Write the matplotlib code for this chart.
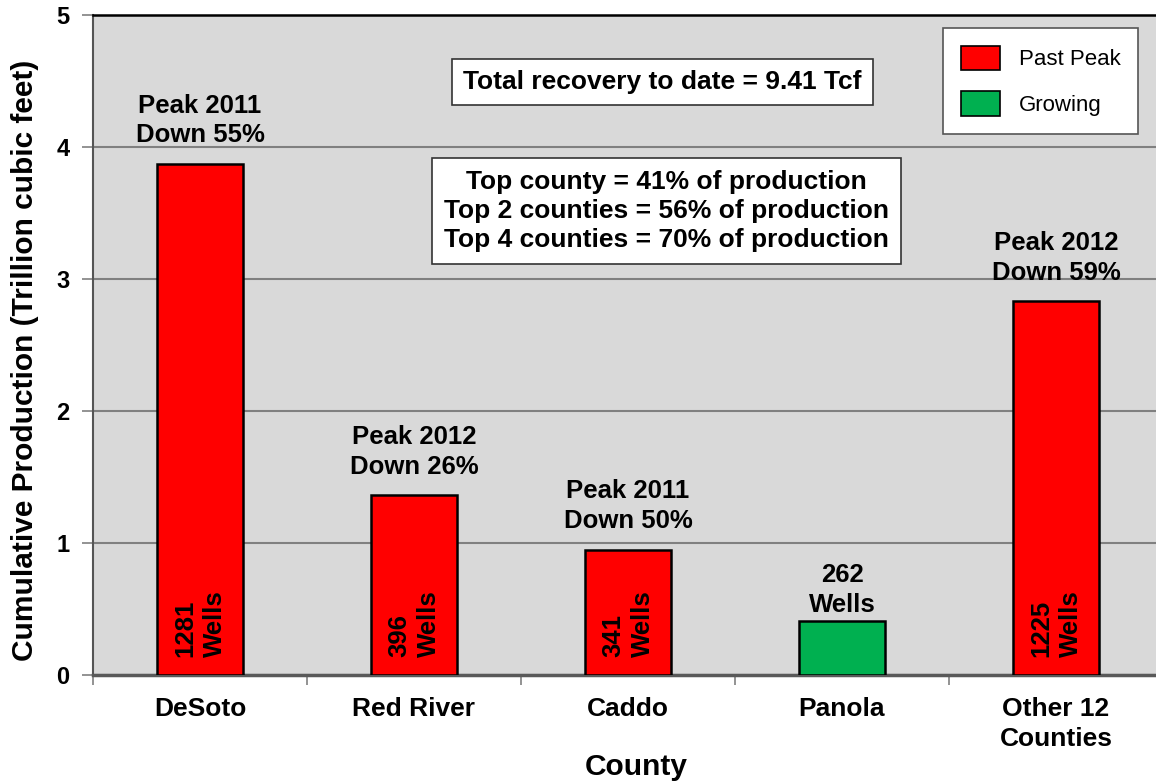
import matplotlib.pyplot as plt

plt.rcParams['font.family'] = ['Liberation Sans', 'DejaVu Sans']

# データ
counties = ["DeSoto", "Red River", "Caddo", "Panola", "Other 12\nCounties"]
production = [3.87, 1.36, 0.95, 0.41, 2.83]
wells = [1281, 396, 341, 262, 1225]
status = ["Past Peak", "Past Peak", "Past Peak", "Growing", "Past Peak"]
peak_notes = ["Peak 2011\nDown 55%", "Peak 2012\nDown 26%", "Peak 2011\nDown 50%",
              None, "Peak 2012\nDown 59%"]
total_text = "Total recovery to date = 9.41 Tcf"
share_text = ("Top county = 41% of production\n"
              "Top 2 counties = 56% of production\n"
              "Top 4 counties = 70% of production")

colors = {"Past Peak": "#FF0000", "Growing": "#00B050"}

fig = plt.figure(figsize=(11.56, 7.81), dpi=100)
ax = fig.add_axes([93 / 1156, 106 / 781, 1070 / 1156, 660 / 781])
ax.set_facecolor("#D9D9D9")

x = list(range(len(counties)))
bars = ax.bar(x, production, width=0.4, color=[colors[s] for s in status],
              edgecolor="black", linewidth=1.8, zorder=3)

ax.set_xlim(-0.5, 4.5)
ax.set_ylim(0, 5)
ax.set_yticks(range(6))
ax.yaxis.grid(True, color="#808080", linewidth=1.5, zorder=1)

fs = 18.5

# 棒の上の注記
for xi, val, note, n, s in zip(x, production, peak_notes, wells, status):
    if note is None:
        ax.annotate(f"{n}\nWells", (xi, val), xytext=(0, 3), textcoords="offset points",
                    ha="center", va="bottom", fontsize=fs, fontweight="bold",
                    linespacing=1.3, zorder=4)
    else:
        ax.annotate(note, (xi, val), xytext=(0, 12), textcoords="offset points",
                    ha="center", va="bottom", fontsize=fs, fontweight="bold",
                    linespacing=1.3, zorder=4)
        # 棒の中の井戸数
        ax.annotate(f"{n}\nWells", (xi, 0), xytext=(0, 13), textcoords="offset points",
                    ha="center", va="bottom", rotation=90, multialignment="left",
                    fontsize=fs, fontweight="bold", linespacing=1.3, zorder=4)

ax.text(2.16, 4.49, total_text, ha="center", va="center", fontsize=19,
        fontweight="bold", zorder=5,
        bbox=dict(boxstyle="square,pad=0.42", facecolor="white", edgecolor="#333333", linewidth=1.2))
ax.text(2.18, 3.515, share_text, ha="center", va="center", fontsize=19,
        fontweight="bold", linespacing=1.27, zorder=5,
        bbox=dict(boxstyle="square,pad=0.45", facecolor="white", edgecolor="#333333", linewidth=1.2))

# 凡例
handles = [plt.Rectangle((0, 0), 1, 1, facecolor=colors[k], edgecolor="black", linewidth=1.2)
           for k in ["Past Peak", "Growing"]]
leg = fig.legend(handles, ["Past Peak", "Growing"], loc="upper left",
                 bbox_to_anchor=(943 / 1156, 1 - 28 / 781), fontsize=16,
                 frameon=True, fancybox=False, handlelength=1.75, handleheight=1.3,
                 handletextpad=0.85, labelspacing=0.95, borderpad=0.8, borderaxespad=0)
leg.get_frame().set_edgecolor("#555555")
leg.get_frame().set_linewidth(1.2)
leg.get_frame().set_alpha(1)

# 軸
ax.set_xticks(x)
ax.set_xticklabels(counties, fontsize=19, fontweight="bold", linespacing=1.3)
ax.tick_params(axis="x", which="major", length=0, pad=16)
ax.set_xticks([-0.5, 0.5, 1.5, 2.5, 3.5], minor=True)
ax.tick_params(axis="x", which="minor", length=7, color="#808080", width=1.2)
for lbl in ax.get_yticklabels():
    lbl.set_fontweight("bold")
ax.tick_params(axis="y", labelsize=17, length=8, color="#808080", width=1.2, pad=9)

ax.spines["top"].set_color("black")
ax.spines["top"].set_linewidth(1.8)
ax.spines["left"].set_color("#555555")
ax.spines["left"].set_linewidth(1.5)
ax.spines["bottom"].set_color("#595959")
ax.spines["bottom"].set_linewidth(2.5)
ax.spines["right"].set_visible(False)

ax.set_ylabel("Cumulative Production (Trillion cubic feet)", fontsize=21.5, fontweight="bold")
ax.yaxis.set_label_coords(-0.05, 0.477)
ax.set_xlabel("County", fontsize=21.5, fontweight="bold")
ax.xaxis.set_label_coords(0.5075, -0.118)

plt.savefig("out.png", dpi=100)
